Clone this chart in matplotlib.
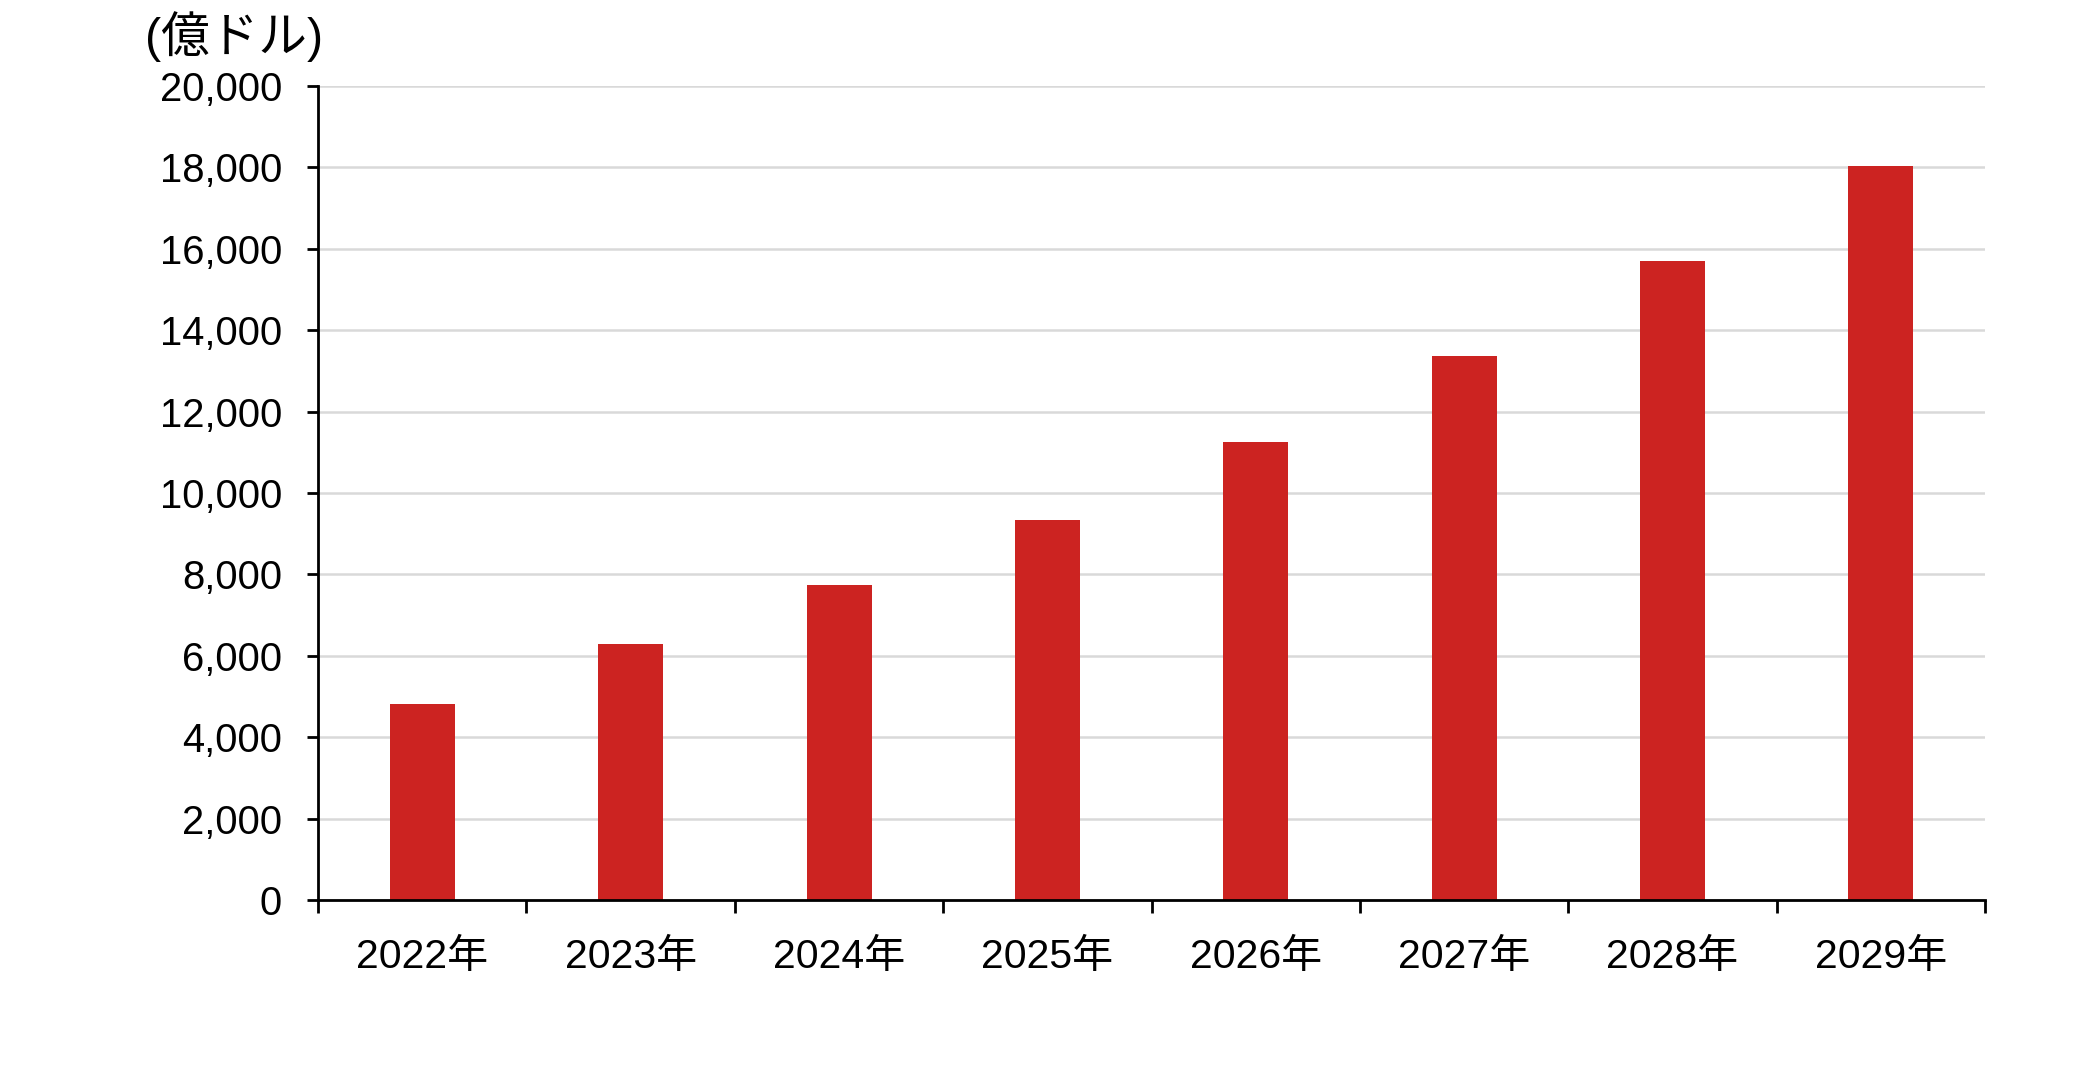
import numpy as np
import matplotlib.pyplot as plt
from matplotlib.ticker import FixedLocator, FuncFormatter

# data (unit: 100 million USD)
years = ["2022年", "2023年", "2024年", "2025年", "2026年", "2027年", "2028年", "2029年"]
values = [4810, 6295, 7735, 9340, 11250, 13370, 15690, 18045]
yticks = list(range(0, 20001, 2000))

fonts = ['Liberation Sans', 'Noto Sans CJK JP', 'DejaVu Sans']
plt.rcParams['font.family'] = fonts

fig = plt.figure(figsize=(20.79, 10.87), dpi=100)
ax = fig.add_axes([0.153, 0.172, 0.8018, 0.7489])

x = np.arange(len(years))
ax.bar(x, values, width=0.312, color='#cc2321', zorder=3)

ax.set_xlim(-0.5, len(years) - 0.5)
ax.set_ylim(0, 20000)

# y axis
ax.yaxis.set_major_locator(FixedLocator(yticks))
ax.yaxis.set_major_formatter(FuncFormatter(lambda v, p: "{:,}".format(int(v))))
ax.tick_params(axis='y', length=8, width=2, pad=18, labelsize=28.8, colors='black')
ax.grid(axis='y', color='#d9d9d9', linewidth=1.8, zorder=0)
ax.set_axisbelow(True)

# x axis: ticks at category borders, labels at centres
ax.xaxis.set_major_locator(FixedLocator(np.arange(-0.5, len(years), 1.0)))
ax.xaxis.set_major_formatter(FuncFormatter(lambda v, p: ""))
ax.xaxis.set_minor_locator(FixedLocator(x))
ax.set_xticklabels(years, minor=True)
ax.tick_params(axis='x', which='major', length=9.5, width=2)
ax.tick_params(axis='x', which='minor', length=0, pad=27, labelsize=29.5)

for s in ['top', 'right']:
    ax.spines[s].set_visible(False)
for s in ['left', 'bottom']:
    ax.spines[s].set_linewidth(2)
    ax.spines[s].set_zorder(4)

fig.text(0.1126, 0.966, "(億ドル)", fontsize=35, ha='center', va='center')

fig.savefig("out.png", dpi=100, facecolor='white')
